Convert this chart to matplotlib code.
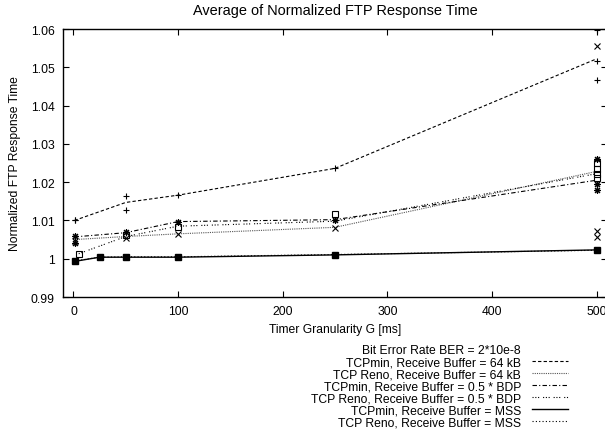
import matplotlib
matplotlib.use('Agg')
import matplotlib.pyplot as plt
from matplotlib.lines import Line2D
from matplotlib.ticker import FuncFormatter

plt.rcParams['font.family'] = ['Liberation Sans', 'DejaVu Sans']
plt.rcParams['font.size'] = 8.7

# mean curves (timer granularity G in ms)
x_min64 = [1, 50, 100, 250, 500]
y_min64 = [1.0100, 1.0147, 1.0166, 1.0236, 1.0522]
x_reno64 = [1, 50, 100, 250, 500]
y_reno64 = [1.0050, 1.0058, 1.0065, 1.0082, 1.0228]
x_minbdp = [1, 50, 100, 250, 500]
y_minbdp = [1.0057, 1.0068, 1.0097, 1.0102, 1.0205]
x_renobdp = [5, 50, 100, 250, 500]
y_renobdp = [1.0013, 1.0058, 1.0085, 1.0098, 1.0222]
x_minmss = [1, 25, 50, 100, 250, 500]
y_minmss = [0.9993, 1.0004, 1.0004, 1.0004, 1.0010, 1.0023]
x_renomss = [1, 25, 50, 100, 250, 500]
y_renomss = [0.9994, 1.0004, 1.0005, 1.0005, 1.0011, 1.0022]

# individual runs
px_min64 = [1, 1, 50, 50, 100, 250, 500, 500, 500]
py_min64 = [1.0100, 1.0102, 1.0163, 1.0128, 1.0166, 1.0236, 1.0597, 1.0517, 1.0467]
px_reno64 = [1, 50, 100, 250, 500, 500, 500]
py_reno64 = [1.0045, 1.0055, 1.0064, 1.0080, 1.0555, 1.0073, 1.0057]
px_minbdp = [1, 1, 50, 100, 250, 500, 500, 500]
py_minbdp = [1.0060, 1.0040, 1.0070, 1.0097, 1.0100, 1.0260, 1.0195, 1.0180]
px_renobdp = [5, 50, 100, 250, 500, 500, 500, 500]
py_renobdp = [1.0013, 1.0062, 1.0082, 1.0118, 1.0250, 1.0234, 1.0222, 1.0210]

labels = ['TCPmin, Receive Buffer = 64 kB',
          'TCP Reno, Receive Buffer = 64 kB',
          'TCPmin, Receive Buffer = 0.5 * BDP',
          'TCP Reno, Receive Buffer = 0.5 * BDP',
          'TCPmin, Receive Buffer = MSS',
          'TCP Reno, Receive Buffer = MSS']

fig = plt.figure(figsize=(6.05, 4.35), dpi=100)
ax = fig.add_axes([63 / 605, 1 - 298 / 435, 544 / 605, 268 / 435])

lw = 0.8
h1, = ax.plot(x_min64, y_min64, color='black', lw=lw, dashes=(3, 2))
h2, = ax.plot(x_reno64, y_reno64, color='#555555', lw=lw, dashes=(1, 1))
h3, = ax.plot(x_minbdp, y_minbdp, color='black', lw=lw, dashes=(4, 2, 1, 2))
h4, = ax.plot(x_renobdp, y_renobdp, color='black', lw=lw, dashes=(1, 1.5, 1, 1.5, 1, 3.5))
h5, = ax.plot(x_minmss, y_minmss, color='black', lw=1.0, marker='s', ms=5)
h6, = ax.plot(x_renomss, y_renomss, color='black', lw=lw, dashes=(1, 2))

ax.plot(px_min64, py_min64, ls='none', marker='+', ms=5, mew=0.8, color='black')
ax.plot(px_reno64, py_reno64, ls='none', marker='x', ms=4, mew=0.8, color='black')
ax.plot(px_minbdp, py_minbdp, ls='none', marker=(8, 2, 0), ms=5, mew=0.8, color='black')
ax.plot(px_renobdp, py_renobdp, ls='none', marker='s', ms=4, mew=0.8,
        mfc='none', color='black')

ax.set_xlim(-10, 510)
ax.set_ylim(0.99, 1.06)
ax.set_xticks([0, 100, 200, 300, 400, 500])
ax.set_yticks([0.99, 1.0, 1.01, 1.02, 1.03, 1.04, 1.05, 1.06])
ax.yaxis.set_major_formatter(FuncFormatter(lambda v, p: '%g' % round(v, 2)))
ax.tick_params(direction='in', length=4, width=0.8, top=True, right=True, pad=6)
for s in ax.spines.values():
    s.set_linewidth(1.0)

ax.set_xlabel('Timer Granularity G [ms]', labelpad=4)
ax.set_ylabel('Normalized FTP Response Time', labelpad=7)
ax.set_title('Average of Normalized FTP Response Time', pad=11)

blank = Line2D([], [], color='none')
h5_leg = Line2D([], [], color='black', lw=1.0)
handles = [blank, h1, h2, h3, h4, h5_leg, h6]
leg_labels = ['Bit Error Rate BER = 2*10e-8'] + labels
fig.legend(handles, leg_labels, loc='upper right',
           bbox_to_anchor=(568 / 605, 1 - 345 / 435),
           frameon=False, markerfirst=False, borderpad=0, borderaxespad=0,
           handlelength=3.0, handletextpad=0.9, labelspacing=0.0)

fig.savefig('out.png', dpi=100)
